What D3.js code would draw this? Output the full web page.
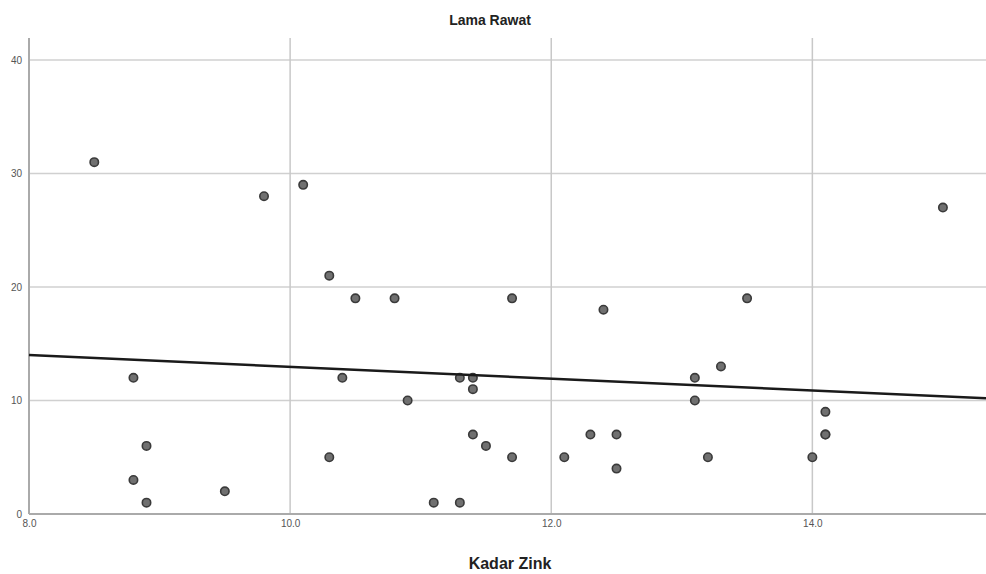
<!DOCTYPE html>
<html><head><meta charset="utf-8">
<script src="https://cdn.jsdelivr.net/npm/d3@7"></script>
<style>body{margin:0;background:#fff;} svg{display:block;font-family:"Liberation Sans",Arial,sans-serif;}</style>
</head><body><svg id="c" width="986" height="574"></svg>
<script>
const kadarZink = [8.5,9.8,10.1,10.3,10.5,10.8,11.7,12.4,13.5,15.0,8.8,10.4,11.3,11.4,11.4,10.9,13.1,13.3,13.1,14.1,14.1,8.9,8.8,8.9,9.5,10.3,11.1,11.3,11.4,11.5,11.7,12.1,12.3,12.5,12.5,13.2,14.0,14.1];
const lamaRawat = [31,28,29,21,19,19,19,18,19,27,12,12,12,12,11,10,12,13,10,9,7,6,3,1,2,5,1,1,7,6,5,5,7,7,4,5,5,7];
const xTicks = [8,10,12,14];
const yTicks = [0,10,20,30,40];
const fitLine = [[8.0,14.0],[15.33,10.2]];

const svg = d3.select("#c");
const x = d3.scaleLinear().domain([8,15.33]).range([29,986]);
const y = d3.scaleLinear().domain([0,40]).range([514,60]);
const plotTop = 38;

// gridlines
svg.append("g").selectAll("line").data(yTicks.filter(d=>d>0)).join("line")
  .attr("x1",x(8)).attr("x2",986).attr("y1",d=>y(d)).attr("y2",d=>y(d))
  .attr("stroke","#d0d0d0").attr("stroke-width",1.5);
svg.append("g").selectAll("line").data(xTicks.filter(d=>d>8)).join("line")
  .attr("y1",plotTop).attr("y2",y(0)).attr("x1",d=>x(d)).attr("x2",d=>x(d))
  .attr("stroke","#c8c8c8").attr("stroke-width",1.5);

// axes
const xa = svg.append("g").attr("transform",`translate(0,${y(0)})`)
  .call(d3.axisBottom(x).tickValues(xTicks).tickFormat(d3.format(".1f")).tickSize(0).tickPadding(6));
xa.select(".domain").attr("stroke","#aaa").attr("stroke-width",2).attr("d",`M${x(8)},0H986`);
xa.selectAll("text").attr("fill","#555").attr("font-size",10);
const ya = svg.append("g").attr("transform",`translate(${x(8)},0)`)
  .call(d3.axisLeft(y).tickValues(yTicks).tickSize(0).tickPadding(7));
ya.select(".domain").attr("stroke","#aaa").attr("stroke-width",2).attr("d",`M0,${plotTop}V${y(0)}`);
ya.selectAll("text").attr("fill","#555").attr("font-size",10);

// points
svg.append("g").selectAll("circle").data(kadarZink.map((d,i)=>[d,lamaRawat[i]])).join("circle")
  .attr("cx",d=>x(d[0])).attr("cy",d=>y(d[1])).attr("r",4.2)
  .attr("fill","#707070").attr("stroke","#3a3a3a").attr("stroke-width",1.6);

// fit line
svg.append("path").datum(fitLine)
  .attr("d",d3.line().x(d=>x(d[0])).y(d=>y(d[1])))
  .attr("stroke","#1a1a1a").attr("stroke-width",2.5).attr("fill","none");

svg.append("text").attr("x",490).attr("y",25).attr("text-anchor","middle")
  .attr("font-size",14).attr("font-weight","bold").attr("fill","#222").text("Lama Rawat");
svg.append("text").attr("x",510).attr("y",569).attr("text-anchor","middle")
  .attr("font-size",16).attr("font-weight","bold").attr("fill","#222").text("Kadar Zink");
</script></body></html>
